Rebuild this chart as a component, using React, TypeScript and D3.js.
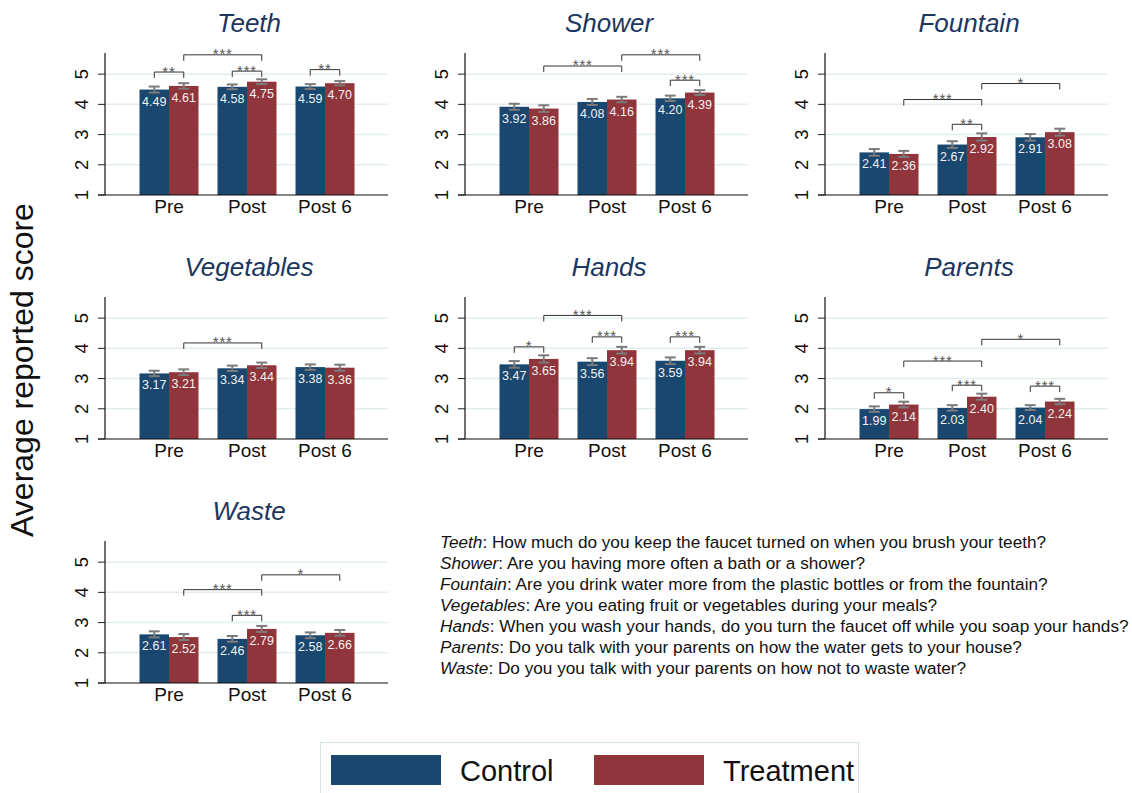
import React from "react";
import * as d3 from "d3";

// Survey waves shown on every panel's x axis
const categories = ["Pre", "Post", "Post 6"];
const panelNames = ["Teeth", "Shower", "Fountain", "Vegetables", "Hands", "Parents", "Waste"];
const yTicks = [1, 2, 3, 4, 5];

// Mean scores per panel (Pre, Post, Post 6)
const controlMeans = [
  [4.49, 4.58, 4.59],
  [3.92, 4.08, 4.2],
  [2.41, 2.67, 2.91],
  [3.17, 3.34, 3.38],
  [3.47, 3.56, 3.59],
  [1.99, 2.03, 2.04],
  [2.61, 2.46, 2.58],
];
const treatmentMeans = [
  [4.61, 4.75, 4.7],
  [3.86, 4.16, 4.39],
  [2.36, 2.92, 3.08],
  [3.21, 3.44, 3.36],
  [3.65, 3.94, 3.94],
  [2.14, 2.4, 2.24],
  [2.52, 2.79, 2.66],
];

// Half-widths of the confidence intervals
const controlErrors = [
  [0.1, 0.08, 0.08],
  [0.1, 0.1, 0.09],
  [0.11, 0.11, 0.11],
  [0.09, 0.09, 0.09],
  [0.11, 0.115, 0.11],
  [0.09, 0.09, 0.08],
  [0.1, 0.095, 0.095],
];
const treatmentErrors = [
  [0.09, 0.08, 0.07],
  [0.11, 0.09, 0.08],
  [0.1, 0.12, 0.115],
  [0.095, 0.09, 0.1],
  [0.12, 0.11, 0.11],
  [0.095, 0.1, 0.09],
  [0.1, 0.1, 0.095],
];

// Significance brackets: [panel, fromWave, fromGroup, toWave, toGroup, level, stars]
// group 0 = Control, 1 = Treatment
const brackets: [number, number, number, number, number, number, string][] = [
  [0, 0, 0, 0, 1, 5.07, "**"],
  [0, 0, 1, 1, 1, 5.64, "***"],
  [0, 1, 0, 1, 1, 5.1, "***"],
  [0, 2, 0, 2, 1, 5.15, "**"],
  [1, 0, 1, 1, 1, 5.27, "***"],
  [1, 1, 1, 2, 1, 5.64, "***"],
  [1, 2, 0, 2, 1, 4.8, "***"],
  [2, 0, 1, 1, 1, 4.16, "***"],
  [2, 1, 1, 2, 1, 4.69, "*"],
  [2, 1, 0, 1, 1, 3.34, "**"],
  [3, 0, 1, 1, 1, 4.18, "***"],
  [4, 0, 0, 0, 1, 4.05, "*"],
  [4, 0, 1, 1, 1, 5.09, "***"],
  [4, 1, 0, 1, 1, 4.38, "***"],
  [4, 2, 0, 2, 1, 4.38, "***"],
  [5, 0, 0, 0, 1, 2.53, "*"],
  [5, 0, 1, 1, 1, 3.58, "***"],
  [5, 1, 1, 2, 1, 4.3, "*"],
  [5, 1, 0, 1, 1, 2.78, "***"],
  [5, 2, 0, 2, 1, 2.75, "***"],
  [6, 0, 1, 1, 1, 4.09, "***"],
  [6, 1, 1, 2, 1, 4.58, "*"],
  [6, 1, 0, 1, 1, 3.24, "***"],
];

// Question wording for each item
const questions = [
  "How much do you keep the faucet turned on when you brush your teeth?",
  "Are you having more often a bath or a shower?",
  "Are you drink water more from the plastic bottles or from the fountain?",
  "Are you eating fruit or vegetables during your meals?",
  "When you wash your hands, do you turn the faucet off while you soap your hands?",
  "Do you talk with your parents on how the water gets to your house?",
  "Do you you talk with your parents on how not to waste water?",
];

const seriesNames = ["Control", "Treatment"];
const seriesColors = ["#1a476f", "#90353b"];

const FONT = "'Liberation Sans', Arial, Helvetica, sans-serif";
const PLOT_W = 283;
const COL_X = [105, 465, 825];
const ROW_BASE = [195, 439, 683];
const BAR_W = 29.5;

function Panel({ index }: { index: number }) {
  const x0 = COL_X[index % 3];
  const base = ROW_BASE[Math.floor(index / 3)];
  const y = d3.scaleLinear().domain([1, 5.7]).range([base, base - 142]);
  const xc = d3.scalePoint<string>().domain(categories).range([x0 + 64, x0 + 220]);
  const barCenter = (wave: number, group: number) =>
    (xc(categories[wave]) as number) + (group === 0 ? -BAR_W / 2 : BAR_W / 2);
  const series = [controlMeans[index], treatmentMeans[index]];
  const errors = [controlErrors[index], treatmentErrors[index]];

  return (
    <g>
      <text
        x={x0 + 144}
        y={base - 163}
        textAnchor="middle"
        fontSize={26}
        fontStyle="italic"
        fill="#1c365e"
        fontFamily={FONT}
      >
        {panelNames[index]}
      </text>
      {yTicks.slice(1).map((t) => (
        <line key={"g" + t} x1={x0} x2={x0 + PLOT_W} y1={y(t)} y2={y(t)} stroke="#e3eded" strokeWidth={1.5} />
      ))}
      {yTicks.map((t) => (
        <g key={"t" + t}>
          <line x1={x0 - 7} x2={x0} y1={y(t)} y2={y(t)} stroke="#222" strokeWidth={1} />
          <text
            transform={`translate(${x0 - 17.5},${y(t)}) rotate(-90)`}
            textAnchor="middle"
            fontSize={18.5}
            fontFamily={FONT}
            fill="#111"
          >
            {t}
          </text>
        </g>
      ))}
      {series.map((vals, g) =>
        vals.map((v, w) => {
          const cx = barCenter(w, g);
          return (
            <rect
              key={`b${g}${w}`}
              x={cx - BAR_W / 2}
              width={BAR_W}
              y={y(v)}
              height={base - y(v)}
              fill={seriesColors[g]}
            />
          );
        })
      )}
      {series.map((vals, g) =>
        vals.map((v, w) => {
          const cx = barCenter(w, g);
          const e = errors[g][w];
          return (
            <g key={`e${g}${w}`} stroke="#7b7b7b" strokeWidth={2}>
              <line x1={cx} x2={cx} y1={y(v - e)} y2={y(v + e)} />
              <line x1={cx - 5.5} x2={cx + 5.5} y1={y(v - e)} y2={y(v - e)} />
              <line x1={cx - 5.5} x2={cx + 5.5} y1={y(v + e)} y2={y(v + e)} />
            </g>
          );
        })
      )}
      {series.map((vals, g) =>
        vals.map((v, w) => (
          <text
            key={`v${g}${w}`}
            x={barCenter(w, g)}
            y={y(v) + 16}
            textAnchor="middle"
            fontSize={12.5}
            fill="#f2f2f2"
            fontFamily={FONT}
          >
            {v.toFixed(2)}
          </text>
        ))
      )}
      <line x1={x0} x2={x0} y1={base} y2={base - 142} stroke="#111" strokeWidth={1.2} />
      <line x1={x0 - 7} x2={x0 + PLOT_W} y1={base} y2={base} stroke="#111" strokeWidth={1.2} />
      {categories.map((c) => (
        <text
          key={c}
          x={xc(c) as number}
          y={base + 18}
          textAnchor="middle"
          fontSize={19}
          fontFamily={FONT}
          fill="#111"
        >
          {c}
        </text>
      ))}
      {brackets
        .filter((b) => b[0] === index)
        .map((b, i) => {
          const xa = barCenter(b[1], b[2]);
          const xb = barCenter(b[3], b[4]);
          const yl = y(b[5]);
          return (
            <g key={"k" + i}>
              <path
                d={`M${xa},${yl + 6}V${yl}H${xb}V${yl + 6}`}
                fill="none"
                stroke="#333"
                strokeWidth={1}
              />
              <text
                x={(xa + xb) / 2}
                y={yl + 4.5}
                textAnchor="middle"
                fontSize={15}
                fill="#555"
                fontFamily={FONT}
                letterSpacing={0.8}
              >
                {b[6]}
              </text>
            </g>
          );
        })}
    </g>
  );
}

export default function App() {
  const swatchX = [331, 594];
  return (
    <svg
      width={1132}
      height={793}
      viewBox="0 0 1132 793"
      style={{ position: "absolute", left: 0, top: 0, background: "#fff" }}
    >
      <rect width={1132} height={793} fill="#fff" />
      <text
        transform="translate(33,370) rotate(-90)"
        textAnchor="middle"
        fontSize={32}
        fontFamily={FONT}
        fill="#111"
      >
        Average reported score
      </text>
      {panelNames.map((_, i) => (
        <Panel key={i} index={i} />
      ))}
      {questions.map((q, i) => (
        <text key={"q" + i} x={440} y={548 + 21 * i} fontSize={17.2} fontFamily={FONT} fill="#111">
          <tspan fontStyle="italic">{panelNames[i]}</tspan>
          {": " + q}
        </text>
      ))}
      <rect x={320.5} y={742.5} width={538} height={60} fill="#fff" stroke="#dbe5e5" strokeWidth={1.2} />
      {seriesNames.map((s, i) => (
        <g key={s}>
          <rect x={swatchX[i]} y={755} width={110} height={30} fill={seriesColors[i]} />
          <text x={swatchX[i] + 129} y={781} fontSize={29} fontFamily={FONT} fill="#111">
            {s}
          </text>
        </g>
      ))}
    </svg>
  );
}
